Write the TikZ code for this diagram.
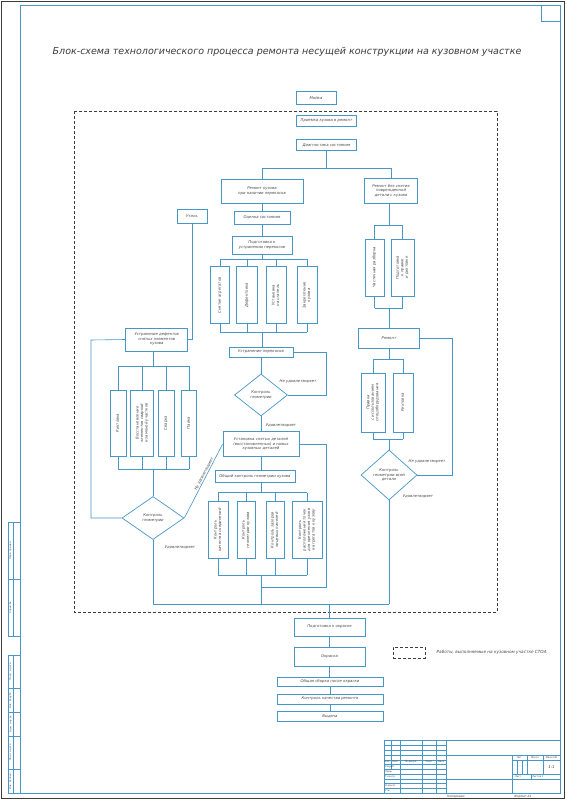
\documentclass[tikz,border=0pt]{standalone}
\usepackage{fontspec}
\setmainfont{DejaVu Sans}
\usepackage{graphicx}
\usetikzlibrary{shapes.geometric, positioning, calc}
\definecolor{cLine}{RGB}{70,150,200}
\definecolor{cText}{RGB}{70,70,70}
\definecolor{cEdge}{RGB}{60,60,60}
\newcommand{\bxfont}{\fontsize{3.8}{4.5}\selectfont\itshape}
\newcommand{\stampfont}{\fontsize{2.4}{2.8}\selectfont\itshape}
\newcommand{\titlefont}{\fontsize{9.5}{11}\selectfont\itshape}
\newcommand{\vtext}[1]{\rotatebox{90}{\begin{tabular}{@{}c@{}}#1\end{tabular}}}
\tikzset{
	blk/.style   ={rectangle, draw=cLine, line width=0.7pt, fill=white, inner sep=0.5pt, align=center, text=cText, font=\bxfont},
	dec/.style   ={diamond, draw=cLine, line width=0.7pt, fill=white, inner sep=0pt, align=center, text=cText, font=\bxfont},
	wire/.style  ={draw=cLine, line width=0.6pt},
	lbl/.style   ={text=cText, font=\bxfont, inner sep=0.5pt},
	dashbox/.style={draw=cEdge, line width=0.6pt, dash pattern=on 3pt off 2pt},
	% drawing frame styles
	frm/.style   ={draw=cLine, line width=0.8pt},
	cell/.style  ={draw=cLine, line width=0.4pt},
	stamp/.style ={text=cText, font=\stampfont, inner sep=0pt},
}
\begin{document}
\begin{tikzpicture}[x=1pt, y=-1pt]
	\useasboundingbox (0,0) rectangle (566,800);
	\fill[white] (0,0) rectangle (566,800);
	% sheet and frame
	\draw[cEdge, line width=0.4pt] (1.5,1.5) rectangle (564.5,798.5);
	\draw[frm] (20,5) rectangle (560,793);
	\draw[cell] (541,5) rectangle (560,21);
	% left margin stamps
	\draw[cell] (8,522) rectangle (20,636);
	\draw[cell] (8,579) -- (20,579);
	\draw[cell] (12.75,522) -- (12.75,636);
	\draw[cell] (8,655) rectangle (20,793);
	\foreach \y in {688.3,712.1,735.9,769.2}
		\draw[cell] (8,\y) -- (20,\y);
	\draw[cell] (12.75,655) -- (12.75,793);
	\foreach \y/\t in {550.5/{Перв. примен.}, 607.5/{Справ. №}, 671.7/{Подп. и дата}, 700.2/{Инв. № дубл.}, 724/{Взам. инв. №}, 752.5/{Подп. и дата}, 781.1/{Инв. № подл.}}
		\node[stamp, rotate=90] at (10.4,\y) {\t};
	% title block
	\draw[frm] (384.1,740.7) rectangle (560,793);
	\foreach \i in {1,...,10}
		\draw[cell] (384.1,740.7+\i*4.755) -- (445.9,740.7+\i*4.755);
	\foreach \x in {390.8,400.3,422.1,436.4}
		\draw[cell] (\x,740.7) -- (\x,769.3);
	\foreach \x in {400.3,422.1,436.4}
		\draw[cell] (\x,769.3) -- (\x,793);
	\draw[frm] (445.9,740.7) -- (445.9,793);
	\draw[cell] (445.9,755) -- (560,755);
	\draw[cell] (445.9,778.8) -- (560,778.8);
	\draw[cell] (512.5,755) -- (512.5,793);
	\draw[cell] (512.5,759.8) -- (560,759.8);
	\draw[cell] (512.5,774.1) -- (560,774.1);
	\foreach \x in {526.8,543}
		\draw[cell] (\x,755) -- (\x,774.1);
	\foreach \x in {517.3,522}
		\draw[cell] (\x,759.8) -- (\x,774.1);
	\draw[cell] (531.5,774.1) -- (531.5,778.8);
	\foreach \x/\t in {387.4/Изм., 395.5/Лист, 411.2/{№ докум.}, 429.2/Подп., 441.1/Дата}
		\node[stamp] at (\x,762.1) {\t};
	\foreach \y/\t in {766.9/Разраб., 771.7/Пров., 776.4/Т.контр., 785.9/Н.контр., 790.7/Утв.}
		\node[stamp, anchor=west] at (385,\y) {\t};
	\node[stamp] at (519.6,757.4) {Лит.};
	\node[stamp] at (534.9,757.4) {Масса};
	\node[stamp] at (551.5,757.4) {Масштаб};
	\node[stamp, font=\fontsize{4}{4}\selectfont\itshape] at (551.5,767) {1:1};
	\node[stamp] at (518,776.5) {Лист};
	\node[stamp] at (538,776.5) {Листов 1};
	\node[stamp, font=\fontsize{3}{3}\selectfont\itshape] at (456,797) {Копировал};
	\node[stamp, font=\fontsize{3}{3}\selectfont\itshape] at (523,797) {Формат А1};
	% title
	\node[text=cEdge, font=\titlefont] (title) at (287,52) {Блок-схема технологического процесса ремонта несущей конструкции на кузовном участке};
	% area of the body shop
	\draw[dashbox] (74,111) rectangle (497,612);
	% top chain
	\node[blk, minimum width=40, minimum height=13] (moika) at (316,98) {Мойка};
	\node[blk, minimum width=60, minimum height=11] (priem) at (326.5,121) {Приемка кузова в ремонт};
	\node[blk, minimum width=60, minimum height=11] (diag) at (326.5,145) {Диагностика состояния};
	\node[blk, minimum width=82, minimum height=24] (remk) at (262,191) {Ремонт кузова\\при наличии перекосов};
	\node[blk, minimum width=53, minimum height=25] (rembez) at (391,190.5) {Ремонт без снятия\\поврежденной\\детали с кузова};
	\draw[wire] (diag.south) -- ++(0,17) coordinate (split);
	\draw[wire] (remk.north) |- (split) -| (rembez.north);
	% centre column
	\node[blk, minimum width=56, minimum height=13] (ocenka) at (262,217.5) {Оценка состояния};
	\node[blk, minimum width=30, minimum height=14] (util) at (192,216) {Утиль};
	\node[blk, minimum width=60, minimum height=18] (podg) at (262,245) {Подготовка к\\устранению перекосов};
	\draw[wire] (remk) -- (ocenka);
	\draw[wire] (ocenka) -- (podg);
	\coordinate (pbar) at (262,259);
	\coordinate (pmrg) at (262,332);
	\foreach \n/\x/\w/\t in {p1/220/19/{Снятие агрегатов}, p2/247/21/{Дефектовка}, p3/276/20/{Установка\\на стапель}, p4/307/20/{Закрепление\\кузова}} {
		\node[blk, minimum width=\w, minimum height=57] (\n) at (\x,295.3) {\vtext{\t}};
		\draw[wire] (\n.north) -- (\n.north |- pbar);
		\draw[wire] (\n.south) -- (\n.south |- pmrg);
	}
	\draw[wire] (podg.south) -- (pbar);
	\draw[wire] (p1.north |- pbar) -- (p4.north |- pbar);
	\draw[wire] (p1.south |- pmrg) -- (p4.south |- pmrg);
	\node[blk, minimum width=64, minimum height=10] (ustr) at (261,352) {Устранение перекосов};
	\draw[wire] (pmrg) -- (pmrg |- ustr.north);
	\node[dec, minimum width=53, minimum height=42] (kgeo) at (261,395) {Контроль\\геометрии};
	\draw[wire] (ustr) -- (kgeo);
	\coordinate (loopc) at (326,352);
	\draw[wire] (ustr.east) -- (loopc) |- (kgeo.east);
	\node[lbl] (nu1) at (298,382) {Не удовлетворяет};
	\node[blk, minimum width=76, minimum height=25] (ustan) at (261,444) {Установка снятых деталей\\(восстановленных) и новых\\кузовных деталей};
	\draw[wire] (kgeo) -- (ustan);
	\node[lbl] (ud1) at (281,426) {Удовлетворяет};
	\node[blk, minimum width=80, minimum height=12] (obsh) at (255,476.5) {Общий контроль геометрии кузова};
	\draw[wire] (ustan.south) -- (ustan.south |- obsh.north);
	\coordinate (kbar) at (261,492.7);
	\coordinate (kmrg) at (261,575);
	\draw[wire] (ustan.south |- obsh.south) -- (kbar);
	\foreach \n/\x/\w/\t in {k1/218/20/{Контроль\\качества соединений}, k2/246/18/{Контроль\\геометрии кузова}, k3/275/18/{Контроль зазоров\\лицевых панелей}, k4/307/30/{Контроль\\расположения точек\\для крепления узлов\\и агрегатов к кузову}} {
		\node[blk, minimum width=\w, minimum height=57] (\n) at (\x,530) {\vtext{\t}};
		\draw[wire] (\n.north) -- (\n.north |- kbar);
		\draw[wire] (\n.south) -- (\n.south |- kmrg);
	}
	\draw[wire] (k1.north |- kbar) -- (k4.north |- kbar);
	\draw[wire] (k1.south |- kmrg) -- (k4.south |- kmrg);
	\coordinate (busc) at (261,604);
	\draw[wire] (kmrg) -- (busc);
	\coordinate (loopk) at (326,587);
	\draw[wire] (ustan.east) -| (loopk) -- (kmrg |- loopk);
	% left branch
	\node[blk, minimum width=62, minimum height=23] (ustrdef) at (156.7,339.5) {Устранение дефектов\\снятых элементов\\кузова};
	\draw[wire] (util.south) |- (ustrdef.east);
	\coordinate (lbar) at (153,366);
	\coordinate (lmrg) at (153,469);
	\draw[wire] (lbar |- ustrdef.south) -- (lbar);
	\foreach \n/\x/\w/\t in {l1/118/16/{Рихтовка}, l2/142.3/23/{Восстановление\\элементов сваркой\\и заменой участков}, l3/166/16/{Сварка}, l4/189/15/{Пайка}} {
		\node[blk, minimum width=\w, minimum height=66] (\n) at (\x,423) {\vtext{\t}};
		\draw[wire] (\n.north) -- (\n.north |- lbar);
		\draw[wire] (\n.south) -- (\n.south |- lmrg);
	}
	\draw[wire] (l1.north |- lbar) -- (l4.north |- lbar);
	\draw[wire] (l1.south |- lmrg) -- (l4.south |- lmrg);
	\node[dec, minimum width=62, minimum height=43] (kgeol) at (153,518) {Контроль\\геометрии};
	\draw[wire] (lmrg) -- (kgeol.north);
	\coordinate (loopl) at (91,340);
	\draw[wire] (ustrdef.west) -- (loopl) |- (kgeol.west);
	\draw[wire] (kgeol.east) -- node[lbl, pos=0.58, above, sloped] (nu2) {Не удовлетворяет} (ustan.west);
	\draw[wire] (kgeol.south) -- (kgeol.south |- busc);
	\node[lbl] (ud2) at (180,548) {Удовлетворяет};
	% right branch
	\coordinate (rbar) at (389,225);
	\coordinate (rmrg) at (389,308);
	\draw[wire] (rbar |- rembez.south) -- (rbar);
	\foreach \n/\x/\w/\t in {r1/374.5/19/{Частичная разборка}, r2/402.5/23/{Подготовка\\к правке\\и рихтовке}} {
		\node[blk, minimum width=\w, minimum height=57] (\n) at (\x,267.5) {\vtext{\t}};
		\draw[wire] (\n.north) -- (\n.north |- rbar);
		\draw[wire] (\n.south) -- (\n.south |- rmrg);
	}
	\draw[wire] (r1.north |- rbar) -- (r2.north |- rbar);
	\draw[wire] (r1.south |- rmrg) -- (r2.south |- rmrg);
	\node[blk, minimum width=61, minimum height=20] (remont) at (389,338) {Ремонт};
	\draw[wire] (rmrg) -- (remont.north);
	\coordinate (rbar2) at (389,359);
	\coordinate (rmrg2) at (389,439);
	\draw[wire] (remont.south) -- (rbar2);
	\foreach \n/\x/\w/\t in {r3/373/24/{Правка\\с использованием\\спецоборудования}, r4/403/20/{Рихтовка}} {
		\node[blk, minimum width=\w, minimum height=59] (\n) at (\x,402.5) {\vtext{\t}};
		\draw[wire] (\n.north) -- (\n.north |- rbar2);
		\draw[wire] (\n.south) -- (\n.south |- rmrg2);
	}
	\draw[wire] (r3.north |- rbar2) -- (r4.north |- rbar2);
	\draw[wire] (r3.south |- rmrg2) -- (r4.south |- rmrg2);
	\node[dec, minimum width=56, minimum height=50] (kdet) at (389,475) {Контроль\\геометрии всей\\детали};
	\draw[wire] (rmrg2) -- (kdet.north);
	\coordinate (loopr) at (452,338);
	\draw[wire] (remont.east) -- (loopr) |- (kdet.east);
	\node[lbl] (nu3) at (427,462) {Не удовлетворяет};
	\draw[wire] (kdet.south) -- (kdet.south |- busc);
	\node[lbl] (ud3) at (418,497) {Удовлетворяет};
	% bus and final chain
	\draw[wire] (kgeol.south |- busc) -- (kdet.south |- busc);
	\node[blk, minimum width=71, minimum height=18] (podok) at (329.5,627) {Подготовка к окраске};
	\node[blk, minimum width=71, minimum height=19] (okr) at (329.5,656.5) {Окраска};
	\node[blk, minimum width=106, minimum height=9] (sborka) at (330,681.5) {Общая сборка после окраски};
	\node[blk, minimum width=106, minimum height=10] (kontr) at (330,699) {Контроль качества ремонта};
	\node[blk, minimum width=106, minimum height=10] (vyd) at (330,716) {Выдача};
	\draw[wire] (podok.north |- busc) -- (podok.north);
	\draw[wire] (podok) -- (okr);
	\draw[wire] (okr.south) -- (okr.south |- sborka.north);
	\draw[wire] (sborka) -- (kontr);
	\draw[wire] (kontr) -- (vyd);
	% legend
	\node[dashbox, minimum width=32, minimum height=11, inner sep=0pt] (leg) at (409,652.5) {};
	\node[lbl, anchor=west, font=\fontsize{4.2}{5}\selectfont\itshape] (legtxt) at (436,652.5) {Работы, выполняемые на кузовном участке СТОА};
\end{tikzpicture}
\end{document}
